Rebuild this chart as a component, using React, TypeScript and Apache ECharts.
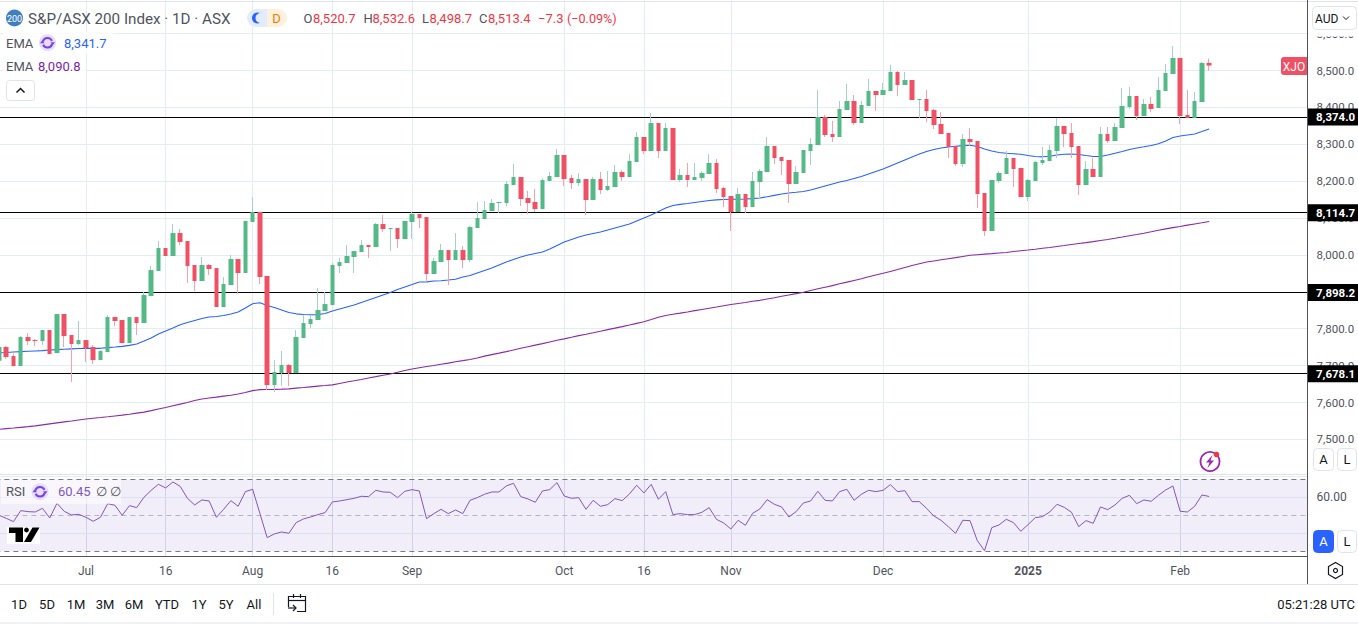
import React, { useEffect, useRef } from "react";
import * as echarts from "echarts";

const FONT = "Roboto, 'Liberation Sans', sans-serif";

const opens = [7713.3,7750.4,7726,7698.8,7777.5,7769.3,7766.6,7796.5,7734.1,7839.8,7782.9,7758.5,7769.3,7750.4,7715.1,7736.8,7831.7,7823.6,7761.2,7831.7,7815.4,7888.6,7956.4,8018.8,7997.1,8059.4,8037.7,7972.7,7929.3,7972.7,7964.5,7858.8,7918.5,7988.9,7951,8089.3,8116.4,7942.9,7647.3,7679.9,7701.6,7679.9,7774.8,7812.7,7823.6,7848,7864.2,7969.9,7978.1,7994.4,8007.9,8026.9,8021.5,8083.8,8070.3,8073,8043.2,8089.3,8110.9,8102.8,7948.3,7980.8,8013.3,7986.2,8013.3,7986.2,8073,8097.4,8119.1,8140.8,8140.8,8189.6,8211.2,8154.3,8143.5,8124.5,8200.4,8211.2,8270.9,8208.5,8195,8205.8,8148.9,8205.8,8176,8184.1,8224.8,8211.2,8251.9,8319.7,8281.7,8357.6,8281.7,8344.1,8203.2,8216.7,8203.2,8208.6,8219.4,8249.3,8181.5,8159.8,8116.4,8165.2,8130,8197.8,8224.9,8295.3,8265.5,8257.4,8192.3,8222.2,8281.8,8298.1,8374,8327.9,8319.7,8393,8417.3,8357.7,8403.8,8444.5,8433.6,8444.5,8496,8460.7,8474.3,8420.1,8422.8,8393,8355,8330.6,8295.3,8246.6,8314.3,8308.9,8167.9,8064.9,8200.5,8219.4,8262.8,8235.7,8157,8200.4,8249.3,8254.6,8281.8,8349.5,8330.6,8295.3,8189.6,8233,8211.3,8327.8,8308.9,8344.1,8401,8430.9,8376.6,8409.2,8398.3,8444.4,8490.5,8533.9,8379.4,8371.2,8414.6,8520.7];
const closes = [7750.4,7723.3,7698.8,7777.5,7766.6,7766.6,7796.5,7731.4,7839.8,7780.2,7758.5,7769.3,7747.7,7715.1,7739.5,7831.7,7820.9,7761.2,7831.7,7815.4,7891.3,7959.1,8018.8,7997.1,8059.4,8035,7969.9,7929.3,7972.7,7961.8,7858.8,7921.2,7988.9,7951,8092,8116.4,7940.1,7647.3,7682.6,7701.6,7679.9,7777.5,7815.4,7826.3,7850.7,7866.9,7972.7,7980.8,7997.1,8010.6,8026.9,8021.5,8083.8,8070.3,8073,8043.2,8092,8110.9,8100.1,7948.3,7983.5,8013.3,7986.2,8013.3,7986.2,8075.7,8100.1,8121.8,8140.8,8143.5,8192.3,8211.2,8151.6,8140.8,8124.5,8203.1,8214,8270.9,8205.8,8195,8205.8,8148.9,8205.8,8176,8186.9,8224.8,8211.2,8254.6,8319.7,8281.7,8357.6,8281.7,8344.1,8203.1,8216.7,8203.2,8211.3,8222.2,8249.3,8178.8,8157.1,8116.4,8165.2,8130,8200.5,8227.6,8295.3,8262.8,8254.7,8192.3,8224.9,8284.5,8300.8,8374,8325.2,8319.7,8395.7,8417.3,8357.7,8406.5,8444.5,8433.6,8447.2,8496,8460.7,8474.3,8420.1,8422.8,8390.2,8352.3,8327.9,8292.6,8246.6,8314.3,8306.2,8165.2,8064.9,8203.2,8222.2,8262.8,8233,8157,8203.1,8252,8257.4,8284.5,8349.5,8327.8,8292.6,8189.6,8233,8211.3,8327.8,8308.9,8346.8,8403.8,8430.9,8376.6,8409.2,8395.6,8447.1,8493.2,8533.9,8376.6,8371.2,8417.3,8520.3,8513.4];
const lows = [7708,7718.7,7698.8,7698.8,7755.8,7753.1,7755.8,7731.4,7734.1,7750.4,7655.5,7755.8,7709.7,7704.3,7715.1,7736.8,7807.3,7761.2,7761.2,7782.9,7815.4,7888.6,7956.4,7997.1,7997.1,8026.9,7923.9,7902.2,7929.3,7945.6,7858.8,7858.8,7918.5,7894.1,7951,8089.3,7921.2,7633.8,7628.4,7644.6,7644.6,7679.9,7774.8,7801.9,7823.6,7848,7864.2,7951,7978.1,7951,8007.9,7991.7,8021.5,8062.1,8010.6,8018.8,8043.2,8043.2,8073,7927.5,7948.3,7980.8,7918.4,7986.2,7964.5,7980.8,8073,8097.4,8119.1,8113.6,8132.6,8189.6,8132.6,8110.9,8116.4,8124.5,8200.4,8211.2,8186.9,8178.7,8186.9,8108.2,8148.9,8165.2,8173.3,8184.1,8200.4,8211.2,8251.9,8273.6,8281.7,8262.8,8281.7,8203.1,8197.8,8184.2,8203.2,8200.5,8219.4,8167.9,8130,8064.9,8116.4,8113.7,8130,8157.1,8224.9,8246.6,8216.7,8140.8,8192.3,8222.2,8243.8,8298.1,8319.7,8306.2,8319.7,8393,8352.3,8357.7,8403.8,8390.2,8433.6,8444.5,8430.9,8460.7,8420.1,8371.3,8360.4,8341.4,8327.9,8262.8,8241.1,8238.4,8295.3,8127.3,8051.3,8064.9,8195,8219.4,8184.2,8157,8146.2,8200.4,8243.8,8254.6,8262.8,8292.6,8262.8,8162.5,8189.6,8211.3,8211.3,8303.5,8308.9,8344.1,8395.6,8365.8,8376.6,8387.5,8398.3,8444.4,8490.5,8355,8371.2,8371.2,8414.6,8498.7];
const highs = [7756,7753.1,7733.2,7780.2,7788.3,7772,7796.5,7796.5,7839.8,7839.8,7782.9,7820.9,7769.3,7755.8,7742,7837.1,7831.7,7823.6,7831.7,7831.7,7900.4,7969.9,8037.7,8018.8,8083.8,8070.3,8037.7,7972.7,7994.4,7975.4,7964.5,7940.1,7999.8,7988.9,8092,8157,8116.4,7942.9,7715.1,7739.5,7704.3,7796.5,7837.1,7837.1,7910.3,7899.5,7978.1,7991.7,8026.9,8010.6,8040.4,8026.9,8086.5,8108.2,8073,8073,8092,8117.3,8110.9,8102.8,7991.6,8029.6,8013.3,8059.4,8024.2,8078.4,8143.5,8146.2,8151.6,8143.5,8200.4,8246.5,8211.2,8173.3,8178.7,8208.5,8224.8,8287.2,8270.9,8216.7,8222.1,8205.8,8211.2,8224.8,8227.5,8243.8,8230.2,8273.6,8333.2,8319.7,8384.8,8357.6,8357.6,8344.1,8233,8249.3,8249.3,8227.6,8273.7,8260.1,8184.2,8159.8,8181.5,8165.2,8224.9,8233,8319.7,8295.3,8265.5,8257.4,8241.1,8284.5,8317,8447.2,8379.4,8363.1,8417.3,8463.4,8433.6,8417.3,8477,8444.5,8466.2,8515,8498.7,8496,8474.3,8422.8,8447.2,8395.7,8387.5,8330.6,8295.3,8327.9,8344.1,8308.9,8167.9,8203.2,8227.6,8281.8,8262.8,8235.7,8205.8,8254.6,8292.6,8298,8371.2,8349.5,8357.7,8295.3,8254.6,8262.8,8346.8,8346.8,8357.7,8452.6,8455.3,8430.9,8422.7,8428.2,8482.4,8517.6,8566.4,8533.9,8447.1,8441.7,8523,8532.6];
const ema50 = [7734.7,7735.5,7736.8,7737.9,7739,7739.8,7740.6,7742.2,7743.3,7744.4,7745.5,7746.3,7746.9,7746.9,7746.9,7748.8,7750.4,7752.3,7755,7758.5,7766.6,7774.8,7785.6,7793.8,7801.9,7810.8,7816.8,7822.2,7827.6,7831.7,7833.1,7835.8,7839.8,7845.3,7856.1,7867.8,7870.5,7862.9,7857.5,7850.7,7843.9,7840.4,7838.5,7837.9,7838.2,7841.2,7848,7853.4,7858.8,7864.2,7871,7877.8,7884.6,7891.4,7898.1,7906.3,7913.1,7919.8,7926.6,7927.1,7929.3,7930.1,7932,7934.2,7940.1,7944.2,7951,7957.8,7964.6,7972.7,7980.8,7987.6,7994.4,7999.8,8003.9,8007.9,8016.1,8025.6,8035,8041.8,8048.6,8054,8058.1,8062.1,8067.6,8073,8078.4,8083.8,8092,8100.1,8108.2,8117.7,8127.2,8134,8137.2,8139.4,8142.1,8144.8,8147.5,8149.4,8150.5,8150.8,8151.1,8151.6,8152.7,8154.3,8157.6,8161.6,8165.2,8167.9,8169.8,8171.9,8176,8181.4,8186.9,8192.3,8197.7,8201.8,8207.2,8212.6,8219.4,8226.2,8232.9,8241.1,8249.2,8257.3,8265.5,8273.6,8280.4,8285.8,8289.9,8292.6,8294.5,8296.4,8297.2,8293.9,8287.2,8281.7,8277.7,8275.5,8274.2,8272.8,8269.5,8266.8,8266,8267.4,8270.9,8273.1,8273.6,8272.3,8269.5,8266.8,8266.8,8270.9,8275.5,8280.4,8285.8,8289.9,8293.1,8296.6,8301.5,8308.8,8318.3,8322.4,8325.1,8327.8,8334.6,8341.7];
const ema200 = [7527.5,7529.2,7530.8,7532.7,7534.6,7536.8,7539.5,7542.2,7544.9,7547.6,7549.8,7552.7,7555.2,7557.4,7559.3,7561.4,7563.6,7565.8,7568.2,7571.2,7573.9,7578,7582.3,7586.4,7591,7595.6,7600.2,7605.3,7609.4,7612.4,7614.6,7617.3,7619.7,7623,7627.3,7632.2,7634.9,7635.4,7635.7,7636.2,7637.1,7638.9,7640.6,7642.5,7644.4,7646,7647.9,7651.7,7655.5,7659,7662.6,7666.6,7670.1,7673.9,7677.5,7682.1,7686.7,7691,7694.3,7697.5,7700.5,7703.8,7706.7,7710.3,7713.5,7716.8,7720.8,7725.7,7729.8,7733.8,7737.9,7742.2,7746.9,7751.2,7755.5,7759.6,7764.2,7768.8,7772.6,7776.7,7781.3,7785.1,7789.1,7793.2,7797.6,7801.6,7805.7,7810,7814.6,7819,7824.9,7830.9,7836.1,7839.3,7842.3,7845.5,7849.1,7852.3,7855.6,7858.8,7862.3,7865.6,7868.3,7871,7874.3,7877,7880.5,7884,7888.1,7891.6,7895.1,7898.7,7903.8,7908.2,7912.5,7916.8,7922,7926.3,7930.9,7935.5,7940.7,7945.6,7950.2,7955.3,7960.5,7966.2,7971.3,7976.2,7980.8,7983.8,7986.8,7989.8,7992.7,7996,7999,8000.6,8002.2,8003.6,8005.2,8006.8,8009.3,8011.5,8013.3,8015.5,8018,8020.4,8023.1,8025.5,8028.5,8031,8033.4,8036.1,8039.1,8042.1,8045.3,8048.6,8052.1,8055.4,8058.9,8062.7,8067,8070.8,8074.1,8077.1,8080.8,8084.1,8087.4,8090.8];
const rsi = [50,48.33,46.48,52.59,52.04,51.85,53.89,48.52,56.67,52.22,50.19,50.56,48.89,46.67,48.89,56.48,55.56,50,55.37,54.26,60,63.89,67.22,65.19,68.52,66.11,59.44,55.74,58.52,57.96,48.89,53.33,58.15,55,63.15,64.44,51.11,37.59,39.63,40.74,40,45.93,47.96,49.07,50.37,51.48,57.41,57.96,58.7,59.44,60.56,60.37,63.89,62.96,62.78,59.81,63.33,64.26,63.52,48.15,50.93,53.33,50.93,52.96,50.93,58.33,59.81,61.67,62.96,62.96,66.3,67.78,60.37,59.07,57.22,63.52,64.26,68.15,60.74,59.44,59.81,53.33,58.33,55,55.93,59.26,58.15,61.85,66.67,62.41,67.22,58.89,63.15,50.37,50.93,50.37,50.37,51.67,54.26,47.78,45.74,42.41,47.22,44.44,51.11,53.52,58.7,56.11,54.63,49.07,52.04,56.85,57.96,63.33,58.33,57.96,63.15,64.44,58.33,61.67,63.89,63.15,63.89,67.04,63.15,63.7,57.59,57.59,53.89,49.63,47.22,43.7,40,47.22,47.04,35.93,30.37,43.15,44.63,47.78,45.93,41.11,44.81,48.7,49.26,51.85,56.11,54.44,51.67,43.7,47.04,45.56,54.63,53.15,55.74,59.44,61.11,56.48,58.52,57.78,61.11,64.07,66.3,52.22,51.85,55,61.3,60.45];
const levels = [8374.0, 8114.7, 7898.2, 7678.1];
const monthLabels: Record<number, string> = { 12: "Jul", 23: "16", 35: "Aug", 46: "16", 57: "Sep", 78: "Oct", 89: "16", 101: "Nov", 122: "Dec", 142: "2025", 163: "Feb" };
const rangeButtons = ["1D", "5D", "1M", "3M", "6M", "YTD", "1Y", "5Y", "All"];
const rangeCentres = [19, 47, 76, 105, 134, 167, 199, 226, 254];
const FUTURE_BARS = 13;
const categories = Array.from({ length: opens.length + FUTURE_BARS }, (_, i) => String(i));

const GRID_COL = "#e4edf3";
const UP = "#53b987";
const DOWN = "#ef5064";
const UP_W = "#a7d0c6";
const DOWN_W = "#f6a1ac";
const TEXT = "#50535e";
const INK = "#131722";

const isMonth = (i: number) => monthLabels[i] !== undefined;
const fmt = (v: number) => v.toLocaleString("en-US", { minimumFractionDigits: 1, maximumFractionDigits: 1 });

function txt(x: number, y: number, text: string, fill: string, fontSize = 13, align = "left", extra: any = {}) {
  return { type: "text", z: 100, x, y, silent: true, style: { text, fill, fontSize, fontFamily: FONT, align, verticalAlign: "middle", ...extra } };
}
function rect(x: number, y: number, width: number, height: number, fill: string, stroke?: string, r = 0) {
  return { type: "rect", z: 99, silent: true, shape: { x, y, width, height, r }, style: { fill, stroke: stroke ?? "none", lineWidth: 1 } };
}
function seg(x1: number, y1: number, x2: number, y2: number, stroke: string, lineWidth = 1) {
  return { type: "line", z: 98, silent: true, shape: { x1, y1, x2, y2 }, style: { stroke, lineWidth } };
}
function poly(points: number[][], stroke: string, lineWidth = 1.2) {
  return { type: "polyline", z: 100, silent: true, shape: { points }, style: { stroke, lineWidth, fill: "none" } };
}
function refreshIcon(cx: number, cy: number) {
  return [
    { type: "circle", z: 100, silent: true, shape: { cx, cy, r: 8.5 }, style: { fill: "#e6dffa" } },
    { type: "arc", z: 101, silent: true, shape: { cx, cy, r: 4.8, startAngle: 0.3, endAngle: 2.7 }, style: { stroke: "#7e3fe8", lineWidth: 2, fill: "none" } },
    { type: "arc", z: 101, silent: true, shape: { cx, cy, r: 4.8, startAngle: 3.4, endAngle: 5.9 }, style: { stroke: "#7e3fe8", lineWidth: 2, fill: "none" } },
    { type: "polygon", z: 101, silent: true, shape: { points: [[cx + 3, cy - 0.5], [cx + 7.5, cy - 0.5], [cx + 5.2, cy + 2.5]] }, style: { fill: "#7e3fe8" } },
    { type: "polygon", z: 101, silent: true, shape: { points: [[cx - 3, cy + 0.5], [cx - 7.5, cy + 0.5], [cx - 5.2, cy - 2.5]] }, style: { fill: "#7e3fe8" } },
  ];
}

function buildGraphics() {
  const red = "#f23645";
  const els: any[] = [
    // panel frame
    seg(0, 1.5, 1358, 1.5, "#e0e3eb"),
    seg(0, 474.5, 1307, 474.5, "#dfe3ee"),
    seg(0, 584.5, 1358, 584.5, "#e0e3eb"),
    seg(0, 623, 1358, 623, "#e0e3eb"),
    seg(1307.5, 0, 1307.5, 584, "#50535e"),
    // legend backdrops
    rect(3, 32, 110, 22, "rgba(255,255,255,0.75)"),
    rect(3, 55, 83, 23, "rgba(255,255,255,0.75)"),
    rect(1, 480, 120, 24, "rgba(255,255,255,0.55)"),
    // title row
    { type: "circle", z: 100, silent: true, shape: { cx: 14.5, cy: 18, r: 8.5 }, style: { fill: "#3f7fbf" } },
    txt(14.5, 18.5, "200", "#ffffff", 9, "center"),
    txt(28, 18.5, "S&P/ASX 200 Index · 1D · ASX", TEXT, 15.2),
    { type: "rect", z: 99, silent: true, shape: { x: 247, y: 9, width: 20, height: 18, r: [9, 0, 0, 9] }, style: { fill: "#e3ecff" } },
    { type: "rect", z: 99, silent: true, shape: { x: 267, y: 9, width: 20, height: 18, r: [0, 9, 9, 0] }, style: { fill: "#fdf0dd" } },
    { type: "circle", z: 100, silent: true, shape: { cx: 257.5, cy: 18, r: 5.5 }, style: { fill: "#2962ff" } },
    { type: "circle", z: 100, silent: true, shape: { cx: 260.5, cy: 18, r: 5 }, style: { fill: "#e3ecff" } },
    txt(276.5, 18.5, "D", "#f57c00", 13, "center"),
    txt(303.5, 18.5, "O", TEXT), txt(313, 18.5, "8,520.7", red),
    txt(363.5, 18.5, "H", TEXT), txt(372.5, 18.5, "8,532.6", red),
    txt(422, 18.5, "L", TEXT), txt(429.5, 18.5, "8,498.7", red),
    txt(479, 18.5, "C", TEXT), txt(488, 18.5, "8,513.4", red),
    txt(538, 18.5, "−7.3", red), txt(567, 18.5, "(−0.09%)", red, 12.6),
    // EMA rows
    txt(6, 43, "EMA", TEXT),
    ...refreshIcon(47.5, 42.7),
    txt(64, 43, fmt(ema50[ema50.length - 1]), "#2962ff"),
    txt(6, 66.5, "EMA", TEXT),
    txt(38, 66.5, fmt(ema200[ema200.length - 1]), "#7b1fa2"),
    rect(6.5, 80.5, 28, 20, "#ffffff", "#e0e3eb", 3),
    poly([[16.5, 92.5], [20.5, 88.5], [24.5, 92.5]], INK, 1.5),
    // price tag
    { type: "rect", z: 99, silent: true, shape: { x: 1281, y: 57, width: 26, height: 18, r: [3, 0, 0, 3] }, style: { fill: DOWN } },
    txt(1294, 66.5, "XJO", "#ffffff", 12, "center"),
    // scale currency
    rect(1309, 3, 49, 33.5, "#ffffff"),
    rect(1312.5, 6.5, 44, 23, "#ffffff", "#e0e3eb", 4),
    txt(1315, 18.5, "AUD", INK, 12),
    poly([[1343, 16.5], [1346, 19.5], [1349, 16.5]], INK, 1),
    // A/L buttons
    rect(1313.5, 448.5, 20, 22, "#ffffff", "#e0e3eb", 4),
    txt(1323.5, 459.5, "A", INK, 13, "center"),
    rect(1337.5, 448.5, 19, 22, "#ffffff", "#e0e3eb", 4),
    txt(1347, 459.5, "L", INK, 13, "center"),
    rect(1313.5, 530.5, 20, 22, "#2962ff", "#2962ff", 4),
    txt(1323.5, 541.5, "A", "#ffffff", 13, "center"),
    rect(1337.5, 530.5, 19, 22, "#ffffff", "#e0e3eb", 4),
    txt(1347, 541.5, "L", INK, 13, "center"),
    // gear
    { type: "polygon", z: 100, silent: true, shape: { points: [[1335.5, 562.5], [1342.5, 566.5], [1342.5, 574.5], [1335.5, 578.5], [1328.5, 574.5], [1328.5, 566.5]] }, style: { fill: "none", stroke: INK, lineWidth: 1.2 } },
    { type: "circle", z: 100, silent: true, shape: { cx: 1335.5, cy: 570.5, r: 2 }, style: { fill: "none", stroke: INK, lineWidth: 1.2 } },
    // lightning badge
    { type: "circle", z: 100, silent: true, shape: { cx: 1210, cy: 461.5, r: 9.5 }, style: { fill: "#ffffff", stroke: "#9c27b0", lineWidth: 1.8 } },
    { type: "polygon", z: 101, silent: true, shape: { points: [[1212.5, 455], [1206, 462.5], [1209.5, 462.5], [1207.5, 468], [1214, 460.5], [1210.5, 460.5]] }, style: { fill: "#9c27b0" } },
    { type: "circle", z: 102, silent: true, shape: { cx: 1216.5, cy: 454.5, r: 2.8 }, style: { fill: "#f23645" } },
    // RSI legend
    txt(6, 491.5, "RSI", TEXT),
    ...refreshIcon(40, 491.7),
    txt(58, 491.5, "60.45", "#7e57c2"),
    txt(96, 491.5, "∅", TEXT), txt(110, 491.5, "∅", TEXT),
    // TV logo
    rect(7, 527, 33, 17, "#ffffff"),
    { type: "polygon", z: 100, silent: true, shape: { points: [[9, 527.5], [23, 527.5], [23, 542], [15.5, 542], [15.5, 533], [9, 533]] }, style: { fill: "#000000" } },
    { type: "circle", z: 100, silent: true, shape: { cx: 26.5, cy: 530, r: 2.4 }, style: { fill: "#000000" } },
    { type: "polygon", z: 100, silent: true, shape: { points: [[32.5, 527.5], [39.5, 527.5], [31, 542], [24, 542]] }, style: { fill: "#000000" } },
    // bottom toolbar
    seg(273.5, 593, 273.5, 615, "#e0e3eb"),
    poly([[288.5, 607], [288.5, 596.5], [305.5, 596.5], [305.5, 611.5], [297, 611.5]], INK),
    seg(288.5, 600.5, 305.5, 600.5, INK, 1.2),
    seg(293.5, 594, 293.5, 598, INK, 1.2),
    seg(300.5, 594, 300.5, 598, INK, 1.2),
    seg(288, 608, 296, 608, INK, 1.2),
    poly([[293, 605], [296, 608], [293, 611]], INK),
    txt(1355, 604, "05:21:28 UTC", INK, 13, "right"),
  ];
  rangeButtons.forEach((b, i) => els.push(txt(rangeCentres[i], 604, b, INK, 13, "center")));
  return els;
}

export default function App() {
  const ref = useRef<HTMLDivElement>(null);
  useEffect(() => {
    const chart = echarts.init(ref.current!, undefined, { renderer: "svg" });
    const wickData = opens.map((o, i) => [o, closes[i], lows[i], highs[i]]);
    const bodyData = opens.map((o, i) => [o, closes[i], Math.min(o, closes[i]), Math.max(o, closes[i])]);
    const noSymbol = { symbol: "none", showSymbol: false };
    const vSplit = { show: true, interval: (i: number) => isMonth(i), alignWithLabel: true };
    chart.setOption({
      animation: false,
      backgroundColor: "#ffffff",
      textStyle: { fontFamily: FONT },
      grid: [
        { left: -4.62, width: 1311.62, top: -3.28, height: 479.58, outerBoundsMode: "none" },
        { left: -4.62, width: 1311.62, top: 475, height: 81, outerBoundsMode: "none" },
      ],
      xAxis: [
        {
          type: "category", gridIndex: 0, data: categories, boundaryGap: true,
          axisLine: { show: false }, axisTick: { show: false }, axisLabel: { show: false },
          splitLine: { ...vSplit, lineStyle: { color: GRID_COL, width: 1 } },
        },
        {
          type: "category", gridIndex: 1, data: categories, boundaryGap: true,
          axisLine: { show: true, onZero: false, lineStyle: { color: "#50535e", width: 1 } },
          axisTick: { show: false },
          axisLabel: {
            show: true, interval: (i: number) => isMonth(i), hideOverlap: false, margin: 9, color: TEXT, fontSize: 12, fontFamily: FONT,
            formatter: (v: string) => (monthLabels[+v] === "2025" ? "{b|2025}" : monthLabels[+v] ?? ""),
            rich: { b: { fontWeight: "bold", color: TEXT, fontSize: 12, fontFamily: FONT } },
          },
          splitLine: { ...vSplit, lineStyle: { color: "#dcdff0", width: 1 } },
        },
      ],
      yAxis: [
        {
          type: "value", gridIndex: 0, position: "right", min: 7400, max: 8700, interval: 100, scale: true,
          axisLine: { show: false }, axisTick: { show: false },
          axisLabel: { color: TEXT, fontSize: 11.5, fontFamily: FONT, margin: 9.5, showMinLabel: false, showMaxLabel: false, formatter: fmt },
          splitLine: { show: true, lineStyle: { color: GRID_COL, width: 1 } },
        },
        {
          type: "value", gridIndex: 1, position: "right", min: 27.39, max: 72.39,
          axisLine: { show: false }, axisTick: { show: false }, splitLine: { show: false },
          axisLabel: { customValues: [60], color: TEXT, fontSize: 12, fontFamily: FONT, margin: 9.5, formatter: (v: number) => v.toFixed(2) },
        },
      ],
      series: [
        {
          type: "line", name: "EMA 50", xAxisIndex: 0, yAxisIndex: 0, data: ema50, ...noSymbol, z: 2, clip: false,
          lineStyle: { color: "#2962ff", width: 1.1 },
          markLine: {
            silent: true, symbol: "none", z: 1, animation: false,
            lineStyle: { color: "#000000", width: 1.2, type: "solid" },
            label: {
              show: true, position: "end", distance: 0, color: "#ffffff", backgroundColor: "#000000", fontSize: 11.5, fontWeight: "bold",
              fontFamily: FONT, padding: [3, 6, 2, 9], formatter: (p: any) => fmt(p.value),
            },
            data: levels.map((v) => ({ yAxis: v })),
          },
        },
        { type: "line", name: "EMA 200", xAxisIndex: 0, yAxisIndex: 0, data: ema200, ...noSymbol, z: 2, lineStyle: { color: "#8b2aa8", width: 1.1 } },
        {
          type: "candlestick", name: "wicks", xAxisIndex: 0, yAxisIndex: 0, data: wickData, barWidth: 1, z: 3,
          itemStyle: { color: UP_W, color0: DOWN_W, borderColor: UP_W, borderColor0: DOWN_W, borderWidth: 1 },
        },
        {
          type: "candlestick", name: "S&P/ASX 200", xAxisIndex: 0, yAxisIndex: 0, data: bodyData, barWidth: 5, z: 4,
          itemStyle: { color: UP, color0: DOWN, borderColor: UP, borderColor0: DOWN, borderWidth: 0 },
        },
        {
          type: "line", name: "RSI", xAxisIndex: 1, yAxisIndex: 1, data: rsi, ...noSymbol, z: 3,
          lineStyle: { color: "#7e57c2", width: 1 },
          markArea: {
            silent: true, z: 1, itemStyle: { color: "rgba(126,87,194,0.1)" },
            data: [[{ yAxis: 30 }, { yAxis: 70 }]],
          },
          markLine: {
            silent: true, symbol: "none", z: 2, animation: false, label: { show: false },
            data: [
              { yAxis: 70, lineStyle: { color: "#787b86", type: [5, 4], width: 1 } },
              { yAxis: 60, lineStyle: { color: "#dcdff0", type: "solid", width: 1 } },
              { yAxis: 50, lineStyle: { color: "#b5b3c4", type: [5, 4], width: 1 } },
              { yAxis: 40, lineStyle: { color: "#dcdff0", type: "solid", width: 1 } },
              { yAxis: 30, lineStyle: { color: "#787b86", type: [5, 4], width: 1 } },
            ],
          },
        },
      ],
      graphic: { elements: buildGraphics() },
    });
    return () => chart.dispose();
  }, []);
  return <div ref={ref} style={{ position: "absolute", left: 0, top: 0, width: 1358, height: 624 }} />;
}
